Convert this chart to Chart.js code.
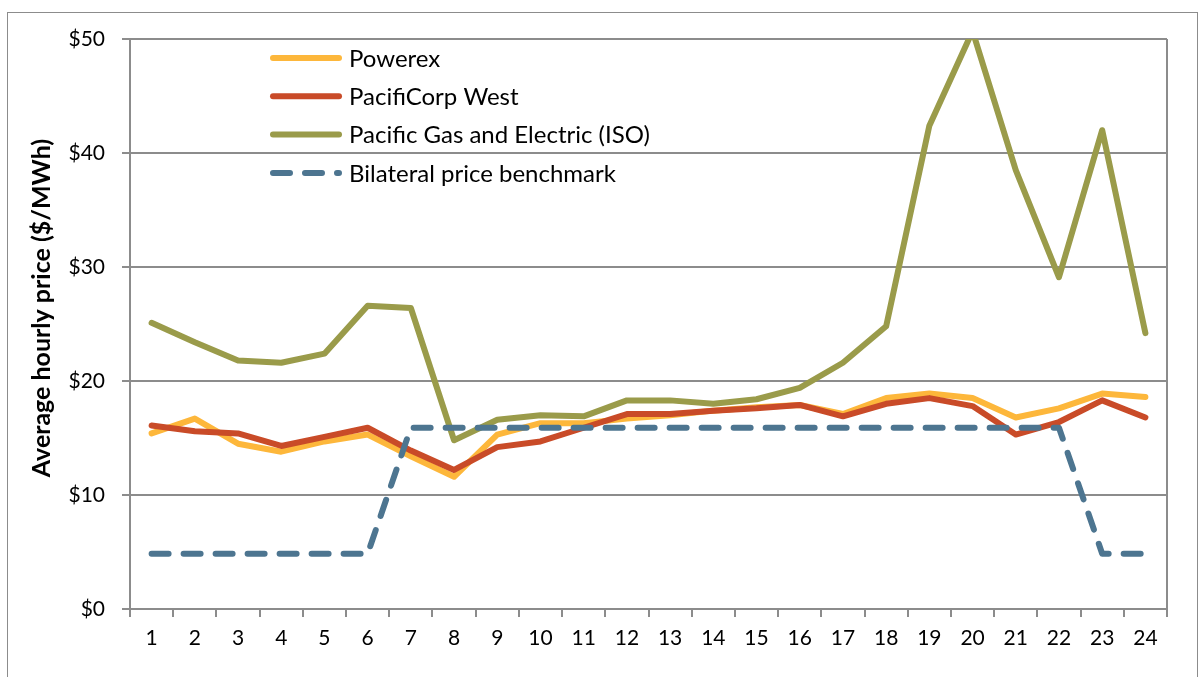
<!DOCTYPE html>
<html>
<head>
<meta charset="utf-8">
<script src="https://cdn.jsdelivr.net/npm/chart.js@4.4.1/dist/chart.umd.min.js"></script>
<style>
  html, body { margin: 0; padding: 0; background: #fff; }
  #wrap { position: relative; width: 1198px; height: 677px; overflow: hidden; }
  #frame { position: absolute; left: 7px; top: 12px; width: 1189px; height: 700px; border: 1px solid #8c8c8c; }
  canvas { position: absolute; left: 0; top: 0; }
</style>
</head>
<body>
<div id="wrap">
  <div id="frame"></div>
  <canvas id="priceChart" width="1198" height="677"></canvas>
</div>
<script>
const hours = ["1","2","3","4","5","6","7","8","9","10","11","12","13","14","15","16","17","18","19","20","21","22","23","24"];

const powerex = [15.4, 16.7, 14.5, 13.8, 14.7, 15.3, 13.4, 11.6, 15.3, 16.3, 16.3, 16.7,
                 17.0, 17.4, 17.7, 17.9, 17.1, 18.5, 18.9, 18.5, 16.8, 17.6, 18.9, 18.6];

const pacificorpWest = [16.1, 15.6, 15.4, 14.3, 15.1, 15.9, 13.9, 12.2, 14.2, 14.7, 15.9, 17.1,
                        17.1, 17.4, 17.6, 17.9, 16.9, 18.0, 18.5, 17.8, 15.3, 16.4, 18.3, 16.8];

const pge = [25.1, 23.4, 21.8, 21.6, 22.4, 26.6, 26.4, 14.8, 16.6, 17.0, 16.9, 18.3,
             18.3, 18.0, 18.4, 19.4, 21.6, 24.8, 42.4, 50.7, 38.5, 29.1, 42.0, 24.2];

const bilateral = [4.85, 4.85, 4.85, 4.85, 4.85, 4.85, 15.9, 15.9, 15.9, 15.9, 15.9, 15.9,
                   15.9, 15.9, 15.9, 15.9, 15.9, 15.9, 15.9, 15.9, 15.9, 15.9, 4.85, 4.85];

const yTicks = [0, 10, 20, 30, 40, 50];
const yTitle = "Average hourly price ($/MWh)";

const FONT = "Lato, 'Liberation Sans', sans-serif";
const GRID = "#8c8c8c";

// legend drawn inside the plot, one item per row
const insideLegend = {
  id: "insideLegend",
  afterDraw(chart) {
    const ctx = chart.ctx;
    const area = chart.chartArea;
    const x0 = area.left + 143;
    let y = area.top + 19;
    ctx.save();
    chart.data.datasets.forEach(ds => {
      ctx.beginPath();
      ctx.strokeStyle = ds.borderColor;
      ctx.lineWidth = 6;
      ctx.lineCap = "round";
      ctx.setLineDash(ds.borderDash || []);
      ctx.moveTo(x0, y);
      ctx.lineTo(x0 + 66, y);
      ctx.stroke();
      ctx.setLineDash([]);
      ctx.fillStyle = "#000";
      ctx.font = "24px " + FONT;
      ctx.textBaseline = "middle";
      ctx.fillText(ds.label, x0 + 76, y + 1);
      y += 38.3;
    });
    ctx.restore();
  }
};

// y axis title, rotated
const axisTitle = {
  id: "axisTitle",
  afterDraw(chart) {
    const ctx = chart.ctx;
    ctx.save();
    ctx.translate(42, 308);
    ctx.rotate(-Math.PI / 2);
    ctx.fillStyle = "#000";
    ctx.font = "bold 25px " + FONT;
    ctx.textAlign = "center";
    ctx.textBaseline = "middle";
    ctx.fillText(yTitle, 0, 0);
    ctx.restore();
  }
};

// right border of the plot area
const plotBorder = {
  id: "plotBorder",
  beforeDatasetsDraw(chart) {
    const ctx = chart.ctx;
    const a = chart.chartArea;
    ctx.save();
    ctx.strokeStyle = GRID;
    ctx.lineWidth = 2;
    ctx.beginPath();
    ctx.moveTo(a.right, a.top);
    ctx.lineTo(a.right, a.bottom + 8);
    ctx.stroke();
    ctx.restore();
  }
};

const lineStyle = {
  borderWidth: 6,
  pointRadius: 0,
  borderCapStyle: "round",
  borderJoinStyle: "round",
  tension: 0,
  fill: false
};

new Chart(document.getElementById("priceChart"), {
  type: "line",
  data: {
    labels: hours,
    datasets: [
      { ...lineStyle, label: "Powerex", data: powerex, borderColor: "#fdb73b", order: 4 },
      { ...lineStyle, label: "PacifiCorp West", data: pacificorpWest, borderColor: "#c94b28", order: 3 },
      { ...lineStyle, label: "Pacific Gas and Electric (ISO)", data: pge, borderColor: "#9a9b4a", order: 2 },
      { ...lineStyle, label: "Bilateral price benchmark", data: bilateral, borderColor: "#4d7590",
        borderDash: [17, 15], order: 1 }
    ]
  },
  options: {
    responsive: false,
    animation: false,
    layout: { padding: { top: 39, right: 31, bottom: 0, left: 0 } },
    plugins: {
      legend: { display: false },
      tooltip: { enabled: false }
    },
    scales: {
      x: {
        offset: true,
        grid: { offset: true, drawOnChartArea: false, color: GRID, lineWidth: 2, tickLength: 8 },
        border: { color: GRID, width: 2 },
        ticks: { color: "#000", font: { family: FONT, size: 21 }, padding: 9, maxRotation: 0 },
        afterFit(scale) { scale.height = 68; }
      },
      y: {
        min: 0,
        max: 50,
        afterBuildTicks(scale) { scale.ticks = yTicks.map(v => ({ value: v })); },
        grid: { color: GRID, lineWidth: 2, tickLength: 8 },
        border: { color: GRID, width: 2 },
        ticks: {
          color: "#000",
          font: { family: FONT, size: 21 },
          padding: 17,
          callback: v => "$" + v
        },
        afterFit(scale) { scale.width = 130; }
      }
    }
  },
  plugins: [insideLegend, axisTitle, plotBorder]
});
</script>
</body>
</html>
